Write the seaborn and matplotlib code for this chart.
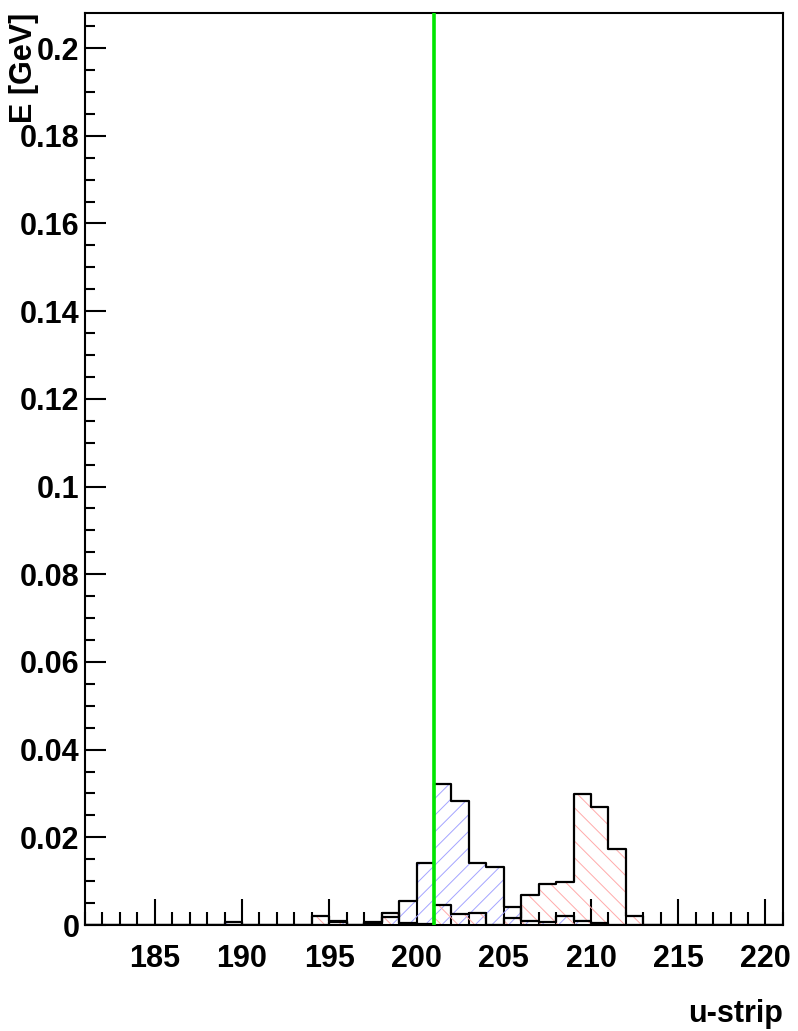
import numpy as np
import pandas as pd
import matplotlib
matplotlib.use("Agg")
import matplotlib.pyplot as plt
import seaborn as sns
from matplotlib.ticker import MultipleLocator, FuncFormatter

# strip bins: left edges 181 .. 220, width 1
strip_lo = list(range(181, 221))

# energy per strip [GeV], cluster 1 (blue hatch)
blue_E = [0, 0, 0, 0, 0, 0, 0, 0, 0.0006, 0,      # 181-190
          0, 0, 0, 0, 0.0006, 0, 0.0004, 0.0019, 0.0055, 0.0142,   # 191-200
          0.0321, 0.0282, 0.0142, 0.0132, 0.0042, 0.0010, 0.0008, 0.0021, 0.0010, 0.0004,  # 201-210
          0, 0, 0, 0, 0, 0, 0, 0, 0, 0]          # 211-220

# cluster 2 (red hatch)
red_E = [0, 0, 0, 0, 0, 0, 0, 0, 0, 0,          # 181-190
         0, 0, 0, 0.0021, 0.0009, 0, 0.0007, 0.0027, 0.0004, 0.0002,   # 191-200
         0.0046, 0.0025, 0.0027, 0, 0.0017, 0.0069, 0.0093, 0.0098, 0.0298, 0.0270,  # 201-210
         0.0173, 0.0021, 0, 0, 0, 0, 0, 0, 0, 0]   # 211-220

cut_strip = 201  # green line

strip_range = (strip_lo[0], strip_lo[-1] + 1)
df = pd.DataFrame({"strip": np.array(strip_lo) + 0.5, "blue": blue_E, "red": red_E})

sns.set_style("white")
plt.rcParams['font.family'] = ['Liberation Sans', 'DejaVu Sans']
plt.rcParams['font.weight'] = 'bold'
plt.rcParams['hatch.linewidth'] = 0.7

fig = plt.figure(figsize=(7.98, 10.31), dpi=100)
ax = fig.add_axes([0.1065, 0.1028, 0.8746, 0.8846])

hist_kw = dict(data=df, x="strip", binwidth=1, binrange=strip_range, element="step", ax=ax)

# hatched fills
sns.histplot(weights="blue", fill=True, color="#a4a4ff", facecolor="none",
             edgecolor="#a4a4ff", hatch="//", linewidth=0, **hist_kw)
sns.histplot(weights="red", fill=True, color="#ffaaaa", facecolor="none",
             edgecolor="#ffaaaa", hatch="\\\\", linewidth=0, **hist_kw)
# black outlines
sns.histplot(weights="blue", fill=False, color="black", linewidth=1.6, **hist_kw)
sns.histplot(weights="red", fill=False, color="black", linewidth=1.6, **hist_kw)

ax.axvline(cut_strip, color="#00e600", linewidth=2.6, zorder=10)

ax.set_xlim(181, 221)
ax.set_ylim(0, 0.208)

for s in ax.spines.values():
    s.set_color("black")
    s.set_linewidth(1.5)

ax.xaxis.set_major_locator(MultipleLocator(5))
ax.xaxis.set_minor_locator(MultipleLocator(1))
ax.yaxis.set_major_locator(MultipleLocator(0.02))
ax.yaxis.set_minor_locator(MultipleLocator(0.005))
ax.yaxis.set_major_formatter(FuncFormatter(lambda v, p: f"{v:g}"))

ax.tick_params(axis="x", which="major", direction="in", length=19, width=1.5,
               bottom=True, top=False, labelsize=22, pad=14, colors="black")
ax.tick_params(axis="x", which="minor", direction="in", length=9.5, width=1.5,
               bottom=True, top=False, colors="black")
ax.tick_params(axis="y", which="major", direction="in", length=15, width=1.5,
               left=True, right=False, labelsize=22, pad=4, colors="black")
ax.tick_params(axis="y", which="minor", direction="in", length=7.5, width=1.5,
               left=True, right=False, colors="black")
for lab in ax.get_xticklabels() + ax.get_yticklabels():
    lab.set_fontweight("bold")

ax.set_xlabel("u-strip", fontsize=22, fontweight="bold", color="black", loc="right", labelpad=18)
ax.set_ylabel("E [GeV]", fontsize=22, fontweight="bold", color="black", loc="top")
ax.yaxis.set_label_coords(-0.066, 1.0)

fig.savefig("out.png", dpi=100)
